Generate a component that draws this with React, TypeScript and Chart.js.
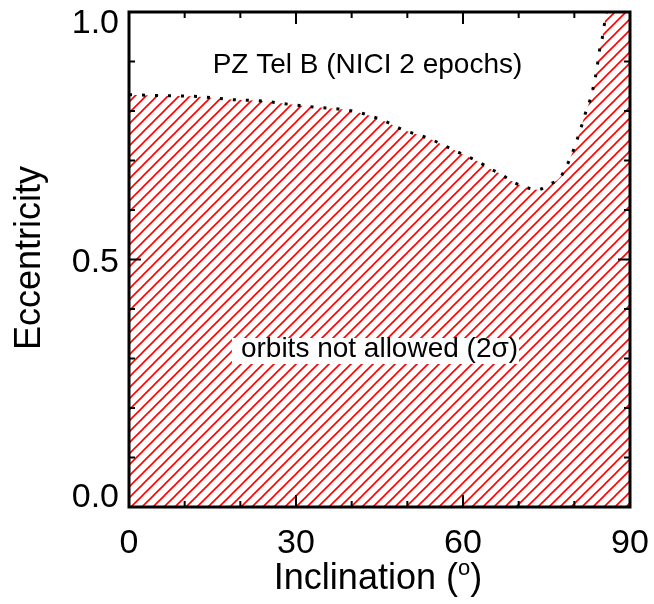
import React, { useEffect, useRef } from "react";
import { Chart, registerables } from "chart.js";

Chart.register(...registerables);

// ---- data ----
const inclination = [0, 6, 12.7, 18.6, 24, 30.6, 35.4, 37.8, 42, 46, 49.2, 51.6, 54, 56.1, 58.2, 60.4, 62.7, 64.6, 66.7, 68.8, 71, 73.4, 75.4, 77.6, 79.6, 80.5, 81.2, 81.8, 82.7, 83.3, 83.8, 84.2, 84.5, 85, 85.4, 85.8];
const eccentricity = [0.833, 0.831, 0.829, 0.823, 0.82, 0.811, 0.806, 0.804, 0.795, 0.779, 0.762, 0.753, 0.744, 0.733, 0.722, 0.71, 0.698, 0.685, 0.673, 0.658, 0.647, 0.641, 0.651, 0.668, 0.714, 0.742, 0.766, 0.789, 0.818, 0.843, 0.869, 0.897, 0.921, 0.946, 0.975, 1.0];
const regionCorner = { x: 90, y: 1.0 };

const xMajorTicks = [0, 30, 60, 90];
const xMinorTicks = [10, 20, 40, 50, 70, 80];
const yMajorTicks = [0, 0.5, 1.0];
const yMinorTicks = [0.1, 0.2, 0.3, 0.4, 0.6, 0.7, 0.8, 0.9];
const xTickLabels = ["0", "30", "60", "90"];
const yTickLabels = ["0.0", "0.5", "1.0"];

const titleText = "PZ Tel B (NICI 2 epochs)";
const regionText = "orbits not allowed (2\u03c3)";
const xAxisTitleMain = "Inclination (";
const xAxisTitleSup = "o";
const xAxisTitleEnd = ")";
const yAxisTitle = "Eccentricity";

const FONT = '"Liberation Sans", Arial, Helvetica, sans-serif';

function makeHatch(): CanvasPattern | string {
  const s = 11;
  const c = document.createElement("canvas");
  c.width = s;
  c.height = s;
  const g = c.getContext("2d");
  if (!g) return "rgba(255,0,0,0.3)";
  g.strokeStyle = "#ff0000";
  g.lineWidth = 1.6;
  g.beginPath();
  g.moveTo(-2, s + 2);
  g.lineTo(s + 2, -2);
  g.moveTo(-2, 2);
  g.lineTo(2, -2);
  g.moveTo(s - 2, s + 2);
  g.lineTo(s + 2, s - 2);
  g.stroke();
  const p = g.createPattern(c, "repeat");
  return p || "rgba(255,0,0,0.3)";
}

const decorPlugin = {
  id: "decor",
  afterDraw(chart: any) {
    const { ctx, chartArea: a, scales } = chart;
    const xs = scales.x;
    const ys = scales.y;
    ctx.save();

    // region label with white background
    ctx.font = `28px ${FONT}`;
    const rw = ctx.measureText(regionText).width;
    const rcx = 379.5;
    const rleft = rcx - rw / 2;
    ctx.fillStyle = "#ffffff";
    ctx.fillRect(rleft - 9, 338, rw + 10, 26);
    ctx.fillStyle = "#000000";
    ctx.textAlign = "left";
    ctx.textBaseline = "alphabetic";
    ctx.fillText(regionText, rleft, 357);

    // title
    ctx.textAlign = "center";
    ctx.fillText(titleText, 367.5, 73);

    // frame
    ctx.strokeStyle = "#000000";
    ctx.lineWidth = 3;
    ctx.strokeRect(a.left, a.top, a.right - a.left, a.bottom - a.top);

    // ticks
    ctx.lineWidth = 2;
    ctx.beginPath();
    const xt = (v: number, len: number) => {
      const px = xs.getPixelForValue(v);
      ctx.moveTo(px, a.bottom);
      ctx.lineTo(px, a.bottom - len);
      ctx.moveTo(px, a.top);
      ctx.lineTo(px, a.top + len);
    };
    const yt = (v: number, len: number) => {
      const py = ys.getPixelForValue(v);
      ctx.moveTo(a.left, py);
      ctx.lineTo(a.left + len, py);
      ctx.moveTo(a.right, py);
      ctx.lineTo(a.right - len, py);
    };
    xMajorTicks.forEach((v) => xt(v, 12));
    xMinorTicks.forEach((v) => xt(v, 6));
    yMajorTicks.forEach((v) => yt(v, 12));
    yMinorTicks.forEach((v) => yt(v, 6));
    ctx.stroke();

    // tick labels
    ctx.font = `34px ${FONT}`;
    ctx.fillStyle = "#000000";
    ctx.textAlign = "center";
    ctx.textBaseline = "alphabetic";
    xMajorTicks.forEach((v, i) => {
      ctx.fillText(xTickLabels[i], xs.getPixelForValue(v), 553);
    });
    ctx.textAlign = "right";
    yMajorTicks.forEach((v, i) => {
      const py = ys.getPixelForValue(v);
      const cy = Math.min(Math.max(py, a.top + 8.5), a.bottom - 12);
      ctx.fillText(yTickLabels[i], 119, cy + 12);
    });

    // x axis title with superscript
    ctx.font = `36px ${FONT}`;
    ctx.textAlign = "left";
    const w1 = ctx.measureText(xAxisTitleMain).width;
    ctx.font = `22px ${FONT}`;
    const w2 = ctx.measureText(xAxisTitleSup).width;
    ctx.font = `36px ${FONT}`;
    const w3 = ctx.measureText(xAxisTitleEnd).width;
    const total = w1 + w2 + w3;
    let tx = 378 - total / 2;
    const base = 589;
    ctx.fillText(xAxisTitleMain, tx, base);
    tx += w1;
    ctx.font = `22px ${FONT}`;
    ctx.fillText(xAxisTitleSup, tx, base - 14);
    tx += w2;
    ctx.font = `36px ${FONT}`;
    ctx.fillText(xAxisTitleEnd, tx, base);

    // y axis title
    ctx.save();
    ctx.translate(40, 258);
    ctx.rotate(-Math.PI / 2);
    ctx.textAlign = "center";
    ctx.fillText(yAxisTitle, 0, 0);
    ctx.restore();

    ctx.restore();
  },
};

export default function App() {
  const ref = useRef<HTMLCanvasElement | null>(null);
  useEffect(() => {
    if (!ref.current) return;
    const curve = inclination.map((x, i) => ({ x, y: eccentricity[i] }));
    const region = [...curve, regionCorner];
    const chart = new Chart(ref.current, {
      type: "line",
      data: {
        datasets: [
          {
            label: "boundary",
            data: curve,
            borderColor: "#000000",
            borderWidth: 3,
            borderDash: [3, 10],
            borderCapStyle: "butt",
            pointRadius: 0,
            fill: false,
            cubicInterpolationMode: "monotone",
          },
          {
            label: "not allowed",
            data: region,
            borderWidth: 0,
            borderColor: "rgba(0,0,0,0)",
            backgroundColor: makeHatch() as any,
            pointRadius: 0,
            fill: "origin",
            cubicInterpolationMode: "monotone",
          },
        ],
      },
      options: {
        animation: false,
        responsive: false,
        events: [],
        layout: { padding: { left: 129, right: 24, top: 12, bottom: 97 } },
        scales: {
          x: { type: "linear", min: 0, max: 90, display: false },
          y: { type: "linear", min: 0, max: 1, display: false },
        },
        plugins: {
          legend: { display: false },
          tooltip: { enabled: false },
          title: { display: false },
        },
      },
      plugins: [decorPlugin],
    });
    return () => chart.destroy();
  }, []);
  return (
    <div style={{ position: "absolute", left: 0, top: 0, width: 654, height: 604, background: "#ffffff" }}>
      <canvas ref={ref} width={654} height={604} />
    </div>
  );
}
